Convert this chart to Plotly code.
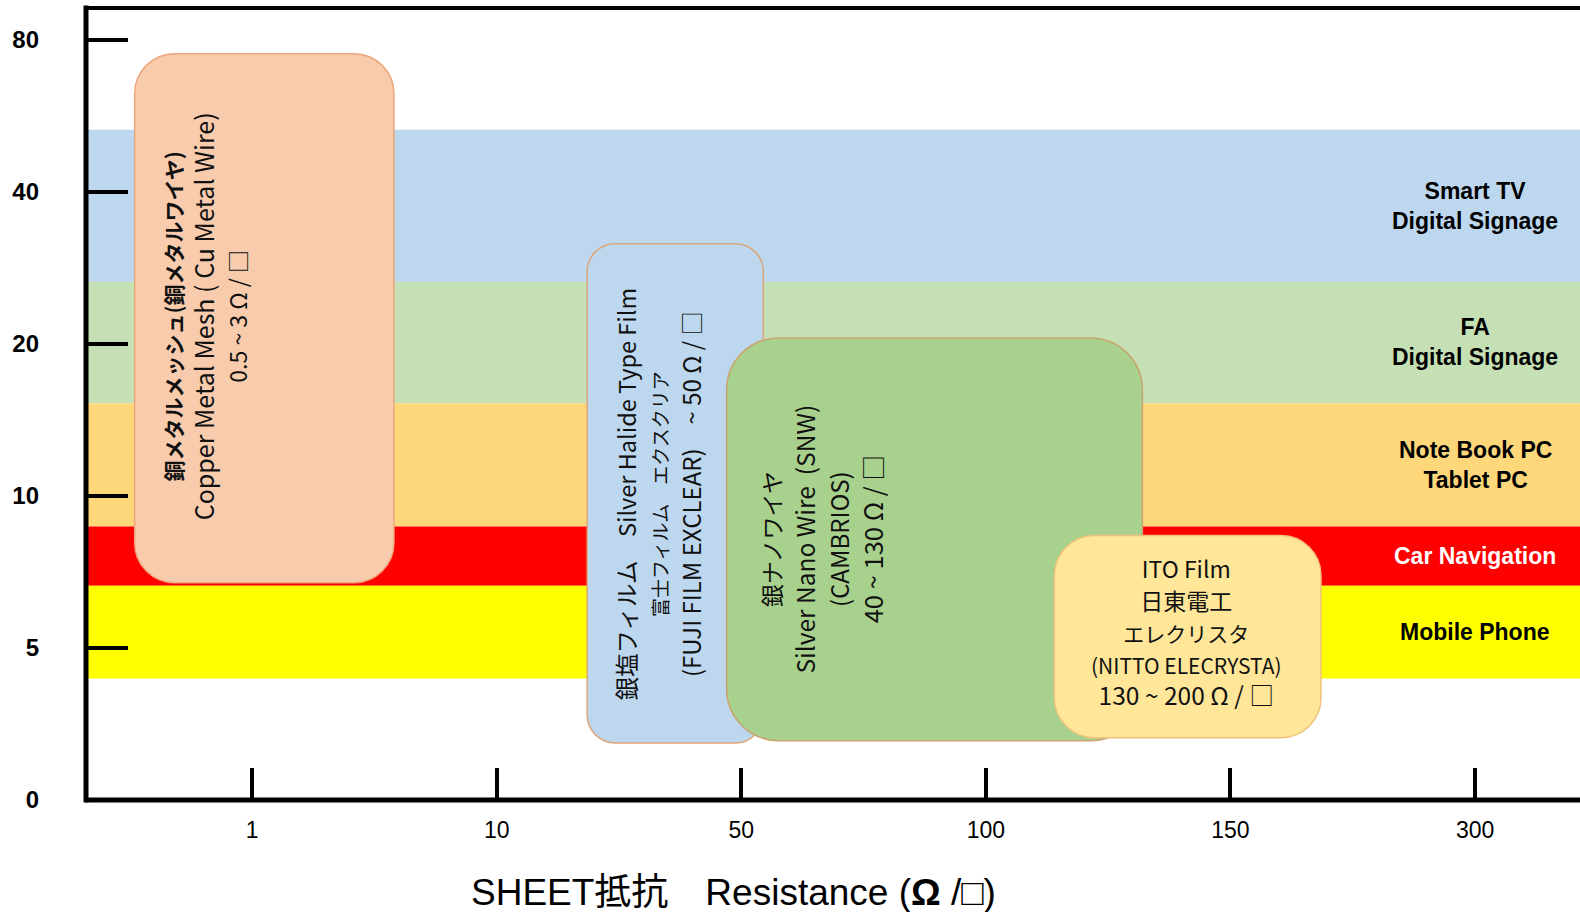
import plotly.graph_objects as go

# ---------------- data ----------------
x_labels = ["1", "10", "50", "100", "150", "300"]
y_labels = ["0", "5", "10", "20", "40", "80"]

band_names = ["Smart TV<br>Digital Signage", "FA<br>Digital Signage",
              "Note Book PC<br>Tablet PC", "Car Navigation", "Mobile Phone"]
band_low = [3.41, 2.61, 1.80, 1.41, 0.80]
band_high = [4.41, 3.41, 2.61, 1.80, 1.41]
band_label_x = 5

box_names = ["copper", "silver_halide", "nanowire", "ito"]
box_x0 = [-0.48, 1.37, 1.94, 3.28]
box_x1 = [0.58, 2.09, 3.64, 4.37]
box_y0 = [1.43, 0.375, 0.39, 0.41]
box_y1 = [4.91, 3.66, 3.04, 1.74]

box_lines = [
    ["<b>銅メタルメッシュ(銅メタルワイヤ)</b>", "Copper Metal Mesh ( Cu Metal Wire)", "0.5 ~ 3 Ω / □"],
    ["銀塩フィルム　Silver Halide Type Film", "富士フィルム　エクスクリア", "(FUJI FILM EXCLEAR)　~ 50 Ω / □"],
    ["銀ナノワイヤ", "Silver Nano Wire  (SNW)", "(CAMBRIOS)", "40 ~ 130 Ω / □"],
    ["ITO Film", "日東電工", "エレクリスタ", "(NITTO ELECRYSTA)", "130 ~ 200 Ω / □"],
]

# ---------------- styles / layout ----------------
W, H = 1580, 912
ML, MR, MT, MB = 86, 0, 8, 112
XR = [-0.679, 5.429]
YR = [0, 5.2105]
px_x = (W - ML - MR) / (XR[1] - XR[0])
px_y = (H - MT - MB) / (YR[1] - YR[0])

band_colors = ["#BDD7EE", "#C5E0B4", "#FDD77A", "#FF0000", "#FFFF00"]
band_text_colors = ["black", "black", "black", "white", "black"]

box_fill = ["#F8CBAD", "#BDD7EE", "#A9D18E", "#FFE699"]
box_line = ["#EDA67C", "#DDA67A", "#C9A46E", "#F0C27C"]
box_radius_px = [40, 28, 52, 40]
box_text_pos = [(-0.19, 3.18), (1.66, 2.01), (2.33, 1.72), (3.82, 1.11)]
box_text_angle = [-90, -90, -90, 0]
box_base_size = [25, 25, 26, 24.5]
box_line_sizes = [
    [21, 25, 23],
    [23.5, 19, 24],
    [23, 24.5, 24, 25.5],
    [23, 23, 21, 21, 24.5],
]

CJK = "Noto Sans CJK JP"
SANS = "Liberation Sans, Noto Sans CJK JP"


def rounded_path(x0, x1, y0, y1, r):
    rx, ry = r / px_x, r / px_y
    k = 0.4477  # 1 - 0.5523
    return (
        f"M {x0+rx},{y1} L {x1-rx},{y1} "
        f"C {x1-rx*k},{y1} {x1},{y1-ry*k} {x1},{y1-ry} "
        f"L {x1},{y0+ry} "
        f"C {x1},{y0+ry*k} {x1-rx*k},{y0} {x1-rx},{y0} "
        f"L {x0+rx},{y0} "
        f"C {x0+rx*k},{y0} {x0},{y0+ry*k} {x0},{y0+ry} "
        f"L {x0},{y1-ry} "
        f"C {x0},{y1-ry*k} {x0+rx*k},{y1} {x0+rx},{y1} Z"
    )


fig = go.Figure()

# invisible anchor trace so the axes render
fig.add_trace(go.Scatter(
    x=[band_label_x] * len(band_names),
    y=[(a + b) / 2 for a, b in zip(band_low, band_high)],
    mode="markers", marker=dict(opacity=0), hoverinfo="skip", showlegend=False))

shapes = []
for lo, hi, c in zip(band_low, band_high, band_colors):
    shapes.append(dict(type="rect", xref="paper", yref="y", x0=0, x1=1, y0=lo, y1=hi,
                       fillcolor=c, line=dict(width=0), layer="below"))

for x0, x1, y0, y1, f, lc, r in zip(box_x0, box_x1, box_y0, box_y1, box_fill, box_line, box_radius_px):
    shapes.append(dict(type="path", xref="x", yref="y", path=rounded_path(x0, x1, y0, y1, r),
                       fillcolor=f, line=dict(color=lc, width=1.5), layer="below"))

# frame lines (left, bottom, top)
shapes.append(dict(type="line", xref="paper", yref="paper", x0=0, x1=0, y0=-0.003, y1=1.003,
                   line=dict(color="black", width=5), layer="above"))
shapes.append(dict(type="line", xref="paper", yref="paper", x0=0, x1=1, y0=0, y1=0,
                   line=dict(color="black", width=5), layer="above"))
shapes.append(dict(type="line", xref="paper", yref="paper", x0=0, x1=1, y0=1, y1=1,
                   line=dict(color="black", width=4), layer="above"))

annotations = []
for name, lo, hi, tc in zip(band_names, band_low, band_high, band_text_colors):
    annotations.append(dict(x=band_label_x, y=(lo + hi) / 2, xref="x", yref="y", text=f"<b>{name}</b>",
                            showarrow=False, font=dict(family=SANS, size=23, color=tc), align="center"))

for lines, sizes, (tx, ty), ang, base in zip(box_lines, box_line_sizes, box_text_pos, box_text_angle, box_base_size):
    txt = "<br>".join(f"<span style='font-size:{s}px'>{l}</span>" for l, s in zip(lines, sizes))
    annotations.append(dict(x=tx, y=ty, xref="x", yref="y", text=txt, showarrow=False, textangle=ang,
                            font=dict(family=CJK, size=base, color="#111111"), align="center"))

annotations.append(dict(x=1.97, y=(800 - 892) / (H - MT - MB), xref="x", yref="paper",
                        text="SHEET抵抗　Resistance (<b>Ω</b> /□)", showarrow=False,
                        font=dict(family=SANS, size=37, color="black"), yanchor="middle"))

fig.update_layout(
    width=W, height=H,
    margin=dict(l=ML, r=MR, t=MT, b=MB),
    plot_bgcolor="white", paper_bgcolor="white",
    shapes=shapes, annotations=annotations, showlegend=False,
    xaxis=dict(range=XR, tickvals=list(range(len(x_labels))), ticktext=x_labels,
               ticks="inside", ticklen=32, tickwidth=4, tickcolor="black",
               showgrid=False, zeroline=False, showline=False, fixedrange=True,
               tickfont=dict(family=SANS, size=23, color="black"), ticklabelstandoff=14),
    yaxis=dict(range=YR, tickvals=list(range(len(y_labels))), ticktext=[f"<b>{t}</b>" for t in y_labels],
               ticks="inside", ticklen=42, tickwidth=4, tickcolor="black",
               showgrid=False, zeroline=False, showline=False, fixedrange=True,
               tickfont=dict(family=SANS, size=24, color="black"), ticklabelstandoff=46),
)

fig.write_html("out.html")
